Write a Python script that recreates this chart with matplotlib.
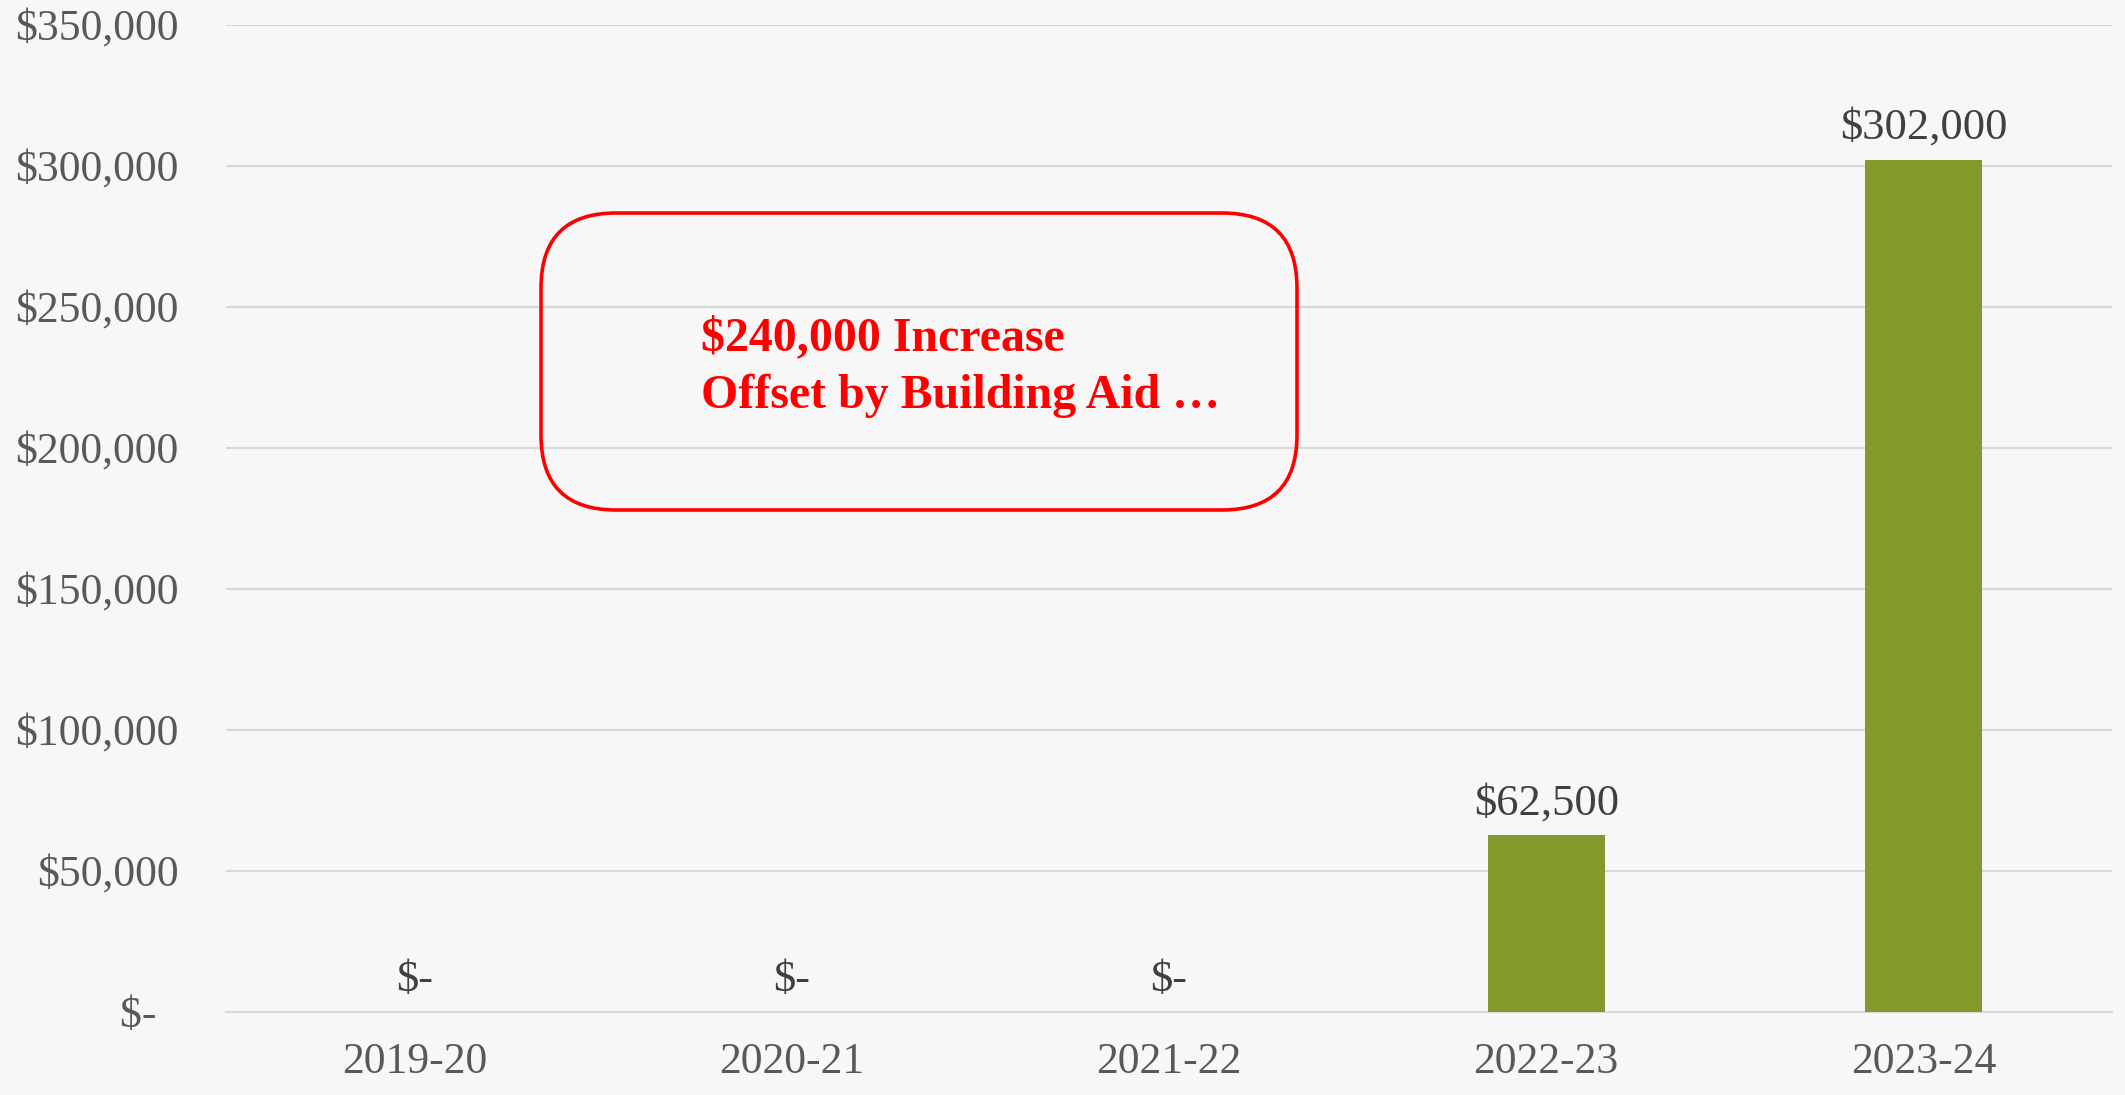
import matplotlib
matplotlib.use("Agg")
import matplotlib.pyplot as plt
from matplotlib.patches import FancyBboxPatch
from matplotlib.transforms import IdentityTransform
from matplotlib.ticker import FuncFormatter

categories = ["2019-20", "2020-21", "2021-22", "2022-23", "2023-24"]
values = [0, 0, 0, 62500, 302000]
y_ticks = [0, 50000, 100000, 150000, 200000, 250000, 300000, 350000]
note_text = "$240,000 Increase\nOffset by Building Aid \u2026"

plt.rcParams["font.family"] = ["Liberation Serif", "DejaVu Serif"]

W, H, DPI = 2125, 1095, 100
fig = plt.figure(figsize=(W / DPI, H / DPI), dpi=DPI, facecolor="#f7f7f7")
ax = fig.add_axes([226 / W, 1 - 1011.5 / H, (2112 - 226) / W, (1011.5 - 24.5) / H])
ax.set_facecolor("none")

x = list(range(len(categories)))
ax.bar(x, values, width=0.31, color="#84992C", zorder=3)

ax.set_xlim(-0.5, len(categories) - 0.5)
ax.set_ylim(0, 350000)
ax.set_yticks(y_ticks)


def money(v, pos=None):
    if v == 0:
        return "$-  "
    return "${:,.0f}".format(v)


ax.yaxis.set_major_formatter(FuncFormatter(money))
ax.set_xticks(x)
ax.set_xticklabels(categories)

for s in ["top", "right", "left"]:
    ax.spines[s].set_visible(False)
ax.spines["bottom"].set_color("#d9d9d9")
ax.spines["bottom"].set_linewidth(1.5)
ax.grid(axis="y", color="#d9d9d9", linewidth=1.5, zorder=0)
ax.set_axisbelow(True)
ax.tick_params(axis="both", length=0, labelsize=31.5, colors="#595959")
ax.tick_params(axis="y", pad=34)
ax.tick_params(axis="x", pad=22)

for xi, v in zip(x, values):
    lbl = "$-" if v == 0 else "${:,.0f}".format(v)
    ax.annotate(lbl, (xi, v), xytext=(0, 23), textcoords="offset points",
                ha="center", va="center", fontsize=32, color="#404040", zorder=4)

# annotation callout box (pixel coordinates)
box = FancyBboxPatch((541, H - 510), 756, 297,
                     boxstyle="round,pad=0,rounding_size=75",
                     transform=IdentityTransform(), facecolor="none",
                     edgecolor="#FF0000", linewidth=2.6, zorder=5)
fig.patches.append(box)
fig.text(701 / W, 1 - 367 / H, note_text, ha="left", va="center",
         fontsize=34.5, fontweight="bold", color="#FF0000", linespacing=1.4)

fig.savefig("out.png", dpi=DPI, facecolor=fig.get_facecolor())
